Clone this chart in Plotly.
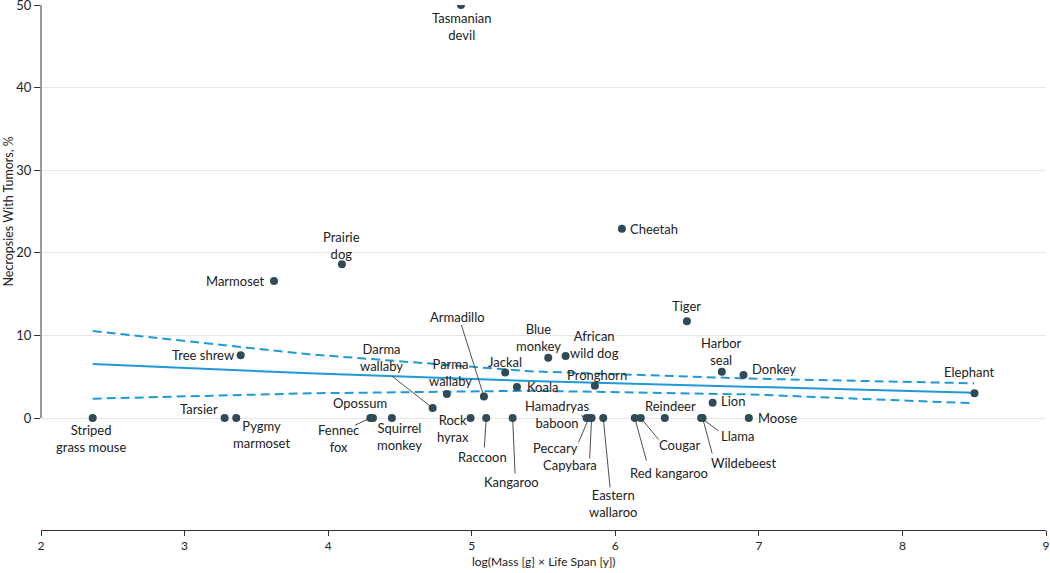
import plotly.graph_objects as go

# ---------------- data ----------------
animals = [
    "Tasmanian devil", "Prairie dog", "Marmoset", "Cheetah", "Tiger", "Tree shrew",
    "Armadillo", "Darma wallaby", "Parma wallaby", "Jackal", "Blue monkey",
    "African wild dog", "Koala", "Pronghorn", "Harbor seal", "Donkey", "Elephant",
    "Lion", "Moose", "Llama", "Wildebeest", "Reindeer", "Cougar", "Red kangaroo",
    "Eastern wallaroo", "Capybara", "Peccary", "Hamadryas baboon", "Kangaroo",
    "Raccoon", "Rock hyrax", "Squirrel monkey", "Opossum", "Fennec fox",
    "Pygmy marmoset", "Tarsier", "Striped grass mouse",
]
log_mass_lifespan = [
    4.925, 4.096, 3.623, 6.046, 6.499, 3.391,
    5.085, 4.728, 4.827, 5.233, 5.533,
    5.654, 5.315, 5.858, 6.742, 6.893, 8.502,
    6.678, 6.930, 6.598, 6.608, 6.345, 6.178, 6.136,
    5.916, 5.835, 5.816, 5.800, 5.285,
    5.101, 4.992, 4.444, 4.312, 4.294,
    3.360, 3.279, 2.360,
]
tumor_pct = [
    50.0, 18.6, 16.6, 22.9, 11.7, 7.6,
    2.6, 1.2, 2.9, 5.5, 7.3,
    7.5, 3.75, 3.9, 5.6, 5.2, 3.0,
    1.85, 0, 0, 0, 0, 0, 0,
    0, 0, 0, 0, 0,
    0, 0, 0, 0, 0,
    0, 0, 0,
]

fit_x = [2.36, 3.11, 3.87, 5.41, 6.94, 8.50]
fit_y = [6.54, 5.98, 5.41, 4.48, 3.79, 3.06]
ci_upper = [10.53, 9.14, 7.71, 5.65, 4.77, 4.20]
ci_lower = [2.34, 2.66, 2.99, 3.30, 2.85, 1.78]

x_ticks = [2, 3, 4, 5, 6, 7, 8, 9]
y_ticks = [0, 10, 20, 30, 40, 50]

# ---------------- label layout (pixel offsets from the point) ----------------
# name: (text, dx, dy, xanchor, leader tail offset or None)
label_layout = {
    "Tasmanian devil": ("Tasmanian<br>devil", 1, 21.5, "center", None),
    "Prairie dog": ("Prairie<br>dog", 0, -19, "center", None),
    "Marmoset": ("Marmoset", -7, 0, "right", None),
    "Cheetah": ("Cheetah", 6, 0, "left", None),
    "Tiger": ("Tiger", 0, -15, "center", None),
    "Tree shrew": ("Tree shrew", -5, 0, "right", None),
    "Armadillo": ("Armadillo", -26, -80, "center", (-23, -73)),
    "Darma wallaby": ("Darma<br>wallaby", -51, -51, "center", (-42, -33)),
    "Parma wallaby": ("Parma<br>wallaby", 3.5, -22, "center", None),
    "Jackal": ("Jackal", 0, -11, "center", None),
    "Blue monkey": ("Blue<br>monkey", -10, -20, "center", None),
    "African wild dog": ("African<br>wild dog", 29, -12, "center", None),
    "Koala": ("Koala", 8, 0, "left", None),
    "Pronghorn": ("Pronghorn", 2, -11, "center", None),
    "Harbor seal": ("Harbor<br>seal", 0, -20, "center", None),
    "Donkey": ("Donkey", 6, -6, "left", None),
    "Elephant": ("Elephant", -5.5, -21.6, "center", None),
    "Lion": ("Lion", 6, -2, "left", None),
    "Moose": ("Moose", 7, 0, "left", None),
    "Llama": ("Llama", 36, 18, "center", (19, 14)),
    "Wildebeest": ("Wildebeest", 41, 44.6, "center", (10, 37)),
    "Reindeer": ("Reindeer", 6, -12.5, "center", None),
    "Cougar": ("Cougar", 38.5, 27, "center", (19, 23)),
    "Red kangaroo": ("Red kangaroo", 34, 54.6, "center", (12, 44)),
    "Eastern wallaroo": ("Eastern<br>wallaroo", 10, 85, "center", (7, 71)),
    "Capybara": ("Capybara", -22, 47, "center", (-2, 42)),
    "Peccary": ("Peccary", -33, 29.6, "center", (-11, 26)),
    "Hamadryas baboon": ("Hamadryas<br>baboon", -30, -4, "center", (-7, -3)),
    "Kangaroo": ("Kangaroo", -1, 63.6, "center", (2.5, 57)),
    "Raccoon": ("Raccoon", -4, 39, "center", (-2, 31)),
    "Rock hyrax": ("Rock<br>hyrax", -18, 10.3, "center", None),
    "Squirrel monkey": ("Squirrel<br>monkey", 8, 18.6, "center", None),
    "Opossum": ("Opossum", -13, -14.7, "center", None),
    "Fennec fox": ("Fennec<br>fox", -31.5, 20.5, "center", (-17, 8)),
    "Pygmy marmoset": ("Pygmy<br>marmoset", 25.4, 16.3, "center", None),
    "Tarsier": ("Tarsier", -4.7, -9.4, "right", None),
    "Striped grass mouse": ("Striped<br>grass mouse", -2, 20, "center", None),
}

FONT = "Lato"
TEXT_COLOR = "#222222"
DOT_COLOR = "#2f4b57"
LINE_COLOR = "#1f9ad8"

fig = go.Figure()

fig.add_trace(go.Scatter(x=fit_x, y=ci_upper, mode="lines",
                         line=dict(color=LINE_COLOR, width=2, dash="9px,5px"),
                         hoverinfo="skip", showlegend=False))
fig.add_trace(go.Scatter(x=fit_x, y=ci_lower, mode="lines",
                         line=dict(color=LINE_COLOR, width=2, dash="9px,5px"),
                         hoverinfo="skip", showlegend=False))
fig.add_trace(go.Scatter(x=fit_x, y=fit_y, mode="lines",
                         line=dict(color=LINE_COLOR, width=2),
                         hoverinfo="skip", showlegend=False))
fig.add_trace(go.Scatter(x=log_mass_lifespan, y=tumor_pct, mode="markers",
                         marker=dict(color=DOT_COLOR, size=8),
                         text=animals, hoverinfo="text", showlegend=False))

annotations = []
for name, xv, yv in zip(animals, log_mass_lifespan, tumor_pct):
    text, dx, dy, xa, tail = label_layout[name]
    if tail is not None:
        annotations.append(dict(
            x=xv, y=yv, xref="x", yref="y", text="", showarrow=True,
            ax=tail[0], ay=tail[1], arrowhead=0, arrowwidth=0.9,
            arrowcolor="#3c3c3c", standoff=2, font=dict(size=1)))
    annotations.append(dict(
        x=xv, y=yv, xref="x", yref="y", text=text, showarrow=False,
        xshift=dx, yshift=-dy, xanchor=xa, yanchor="middle", align="center",
        font=dict(family=FONT, size=13, color=TEXT_COLOR)))

annotations.append(dict(
    x=0, y=25, xref="paper", yref="y", text="Necropsies With Tumors, %",
    textangle=-90, showarrow=False, xshift=-33, xanchor="center", yanchor="middle",
    font=dict(family=FONT, size=12.5, color=TEXT_COLOR)))
annotations.append(dict(
    x=0.5, y=0, xref="paper", yref="paper", text="log(Mass [g] × Life Span [y])",
    showarrow=False, yshift=-31, xanchor="center", yanchor="middle",
    font=dict(family=FONT, size=12, color=TEXT_COLOR)))

fig.update_layout(
    width=1050, height=573,
    margin=dict(l=41, r=4, t=5, b=43, autoexpand=False),
    paper_bgcolor="white", plot_bgcolor="white",
    font=dict(family=FONT, size=13, color=TEXT_COLOR),
    annotations=annotations,
    shapes=[dict(type="line", xref="paper", yref="y", x0=0, x1=0, y0=0, y1=50,
                 line=dict(color="#333333", width=1))],
    xaxis=dict(range=[2, 9], tickvals=x_ticks, ticks="outside", ticklen=5,
               tickcolor="#333333", showline=True, linecolor="#333333", linewidth=1,
               showgrid=False, zeroline=False, ticklabeloverflow="allow",
               tickfont=dict(family=FONT, size=12, color=TEXT_COLOR)),
    yaxis=dict(range=[-13.56, 50], tickvals=y_ticks, ticks="outside", ticklen=6,
               tickcolor="#333333", showline=False, showgrid=True,
               gridcolor="#e6e6e6", gridwidth=1, zeroline=False,
               ticklabeloverflow="allow",
               tickfont=dict(family=FONT, size=13, color=TEXT_COLOR)),
)

fig.write_html("out.html", config={"displayModeBar": False},
               post_script="document.body.style.margin='0';document.body.style.padding='0';")
